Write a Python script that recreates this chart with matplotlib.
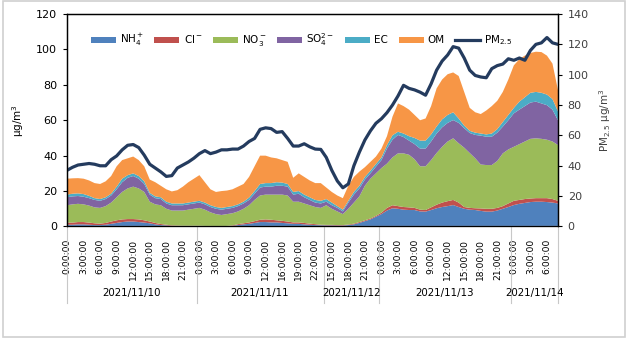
import matplotlib
matplotlib.use('Agg')
from matplotlib import pyplot as plt
from matplotlib.patches import Rectangle, Patch
from matplotlib.lines import Line2D
import matplotlib.transforms as mtransforms
import numpy as np

plt.rcParams['font.family'] = 'DejaVu Sans'

# category axis: hours of each day (11/11 misses 13:00, 11/12 starts at 14:00)
days = ['2021/11/10', '2021/11/11', '2021/11/12', '2021/11/13', '2021/11/14']
hours_per_day = [
    list(range(0, 24)),
    list(range(0, 13)) + list(range(14, 24)),
    list(range(14, 24)),
    list(range(0, 24)),
    list(range(0, 9)),
]

nh4 = [1.0,1.0,1.2,1.2,1.0,0.8,0.8,1.0,1.5,2.0, 2.5,2.8,2.8,2.5,2.2,1.8,1.2,0.8,0.6,0.3,
       0.2,0.2,0.2,0.2,0.2,0.1,0.1,0.1,0.1,0.1, 0.3,0.8,1.2,1.5,2.0,2.5,2.5,2.3,2.3,2.0,
       1.8,1.5,1.5,1.2,1.0,0.8,0.7,0.6,0.6,0.5, 0.5,0.8,1.2,2.0,3.0,4.0,5.5,7.0,9.0,10.3,
       10.0,9.5,9.3,9.3,8.5,8.4,9.3,10.3,11.0,11.5, 12.1,11.0,10.0,9.5,9.3,8.8,8.4,8.4,9.0,10.0,
       11.0,12.1,12.8,13.3,13.8,14.0,14.0,13.8,13.5,13.0]
cl = [1.2,1.2,1.3,1.3,1.2,1.0,0.8,1.0,1.3,1.5, 1.5,1.4,1.4,1.5,1.3,1.0,0.8,0.6,0.4,0.3,
      0.3,0.2,0.2,0.2,0.2,0.2,0.2,0.1,0.1,0.2, 0.3,0.5,0.6,0.8,1.0,1.3,1.5,1.5,1.2,1.2,
      1.0,0.8,0.8,0.8,0.6,0.5,0.3,0.3,0.3,0.3, 0.3,0.3,0.4,0.5,0.5,0.5,0.5,0.8,1.5,1.7,
      1.5,1.5,1.5,1.2,1.0,0.9,1.5,2.0,2.5,2.8, 2.9,2.5,1.0,1.0,1.0,1.4,1.6,1.6,1.5,1.5,
      2.0,2.4,2.2,2.2,2.0,2.0,2.0,2.2,2.0,1.5]
no3 = [9.8,10.3,10.3,10.0,9.6,9.0,8.9,9.5,10.7,13.0, 15.5,17.3,18.3,17.5,16.0,11.2,10.5,10.6,9.0,8.4,
       8.5,8.6,9.1,9.6,10.1,9.2,7.7,6.8,6.3,6.7, 6.9,7.2,8.2,9.7,12.0,13.7,14.0,14.2,14.5,14.8,
       14.7,11.7,11.7,11.0,10.4,9.7,9.5,11.1,9.1,7.7, 6.2,8.9,11.9,14.5,19.5,22.5,24.0,25.2,25.0,27.0,
       29.8,30.3,29.7,27.5,24.5,24.7,26.7,29.2,31.5,33.7, 34.8,33.5,33.5,31.0,28.2,24.8,24.7,24.7,26.5,29.8,
       30.5,30.5,31.5,32.5,33.7,33.8,33.5,33.0,32.5,31.5]
so4 = [4.5,4.5,4.4,4.3,4.2,4.2,4.0,4.0,4.0,4.5, 5.5,6.0,6.0,5.5,4.5,4.0,3.5,3.5,3.0,3.0,
       3.0,3.0,3.0,3.0,3.0,3.0,3.0,3.0,3.0,3.0, 3.0,3.0,3.0,3.0,3.5,4.5,4.5,4.5,5.0,5.0,
       5.0,4.0,4.5,3.5,3.0,2.5,2.5,2.0,2.0,2.0, 1.5,3.5,4.5,4.5,3.5,3.0,3.8,4.5,8.5,10.0,
       10.4,9.2,8.0,8.5,10.0,10.0,10.5,11.0,11.0,10.5, 10.3,11.5,11.0,11.3,13.2,16.3,16.0,16.0,16.0,15.1,
       16.5,18.9,19.5,20.0,20.5,20.7,20.0,19.5,18.0,14.0]
ec = [1.5,1.5,1.5,1.5,1.3,1.0,1.0,1.0,1.0,1.5, 2.0,1.5,1.5,1.5,1.5,1.0,1.0,1.0,1.0,1.0,
      1.0,1.0,1.0,1.0,1.0,1.0,1.0,1.0,1.0,1.0, 1.0,1.0,1.0,1.3,1.5,2.0,2.0,2.0,2.0,1.8,
      1.5,1.5,1.5,1.5,1.5,1.5,1.5,1.5,1.5,1.0, 1.0,1.0,1.5,1.5,1.5,1.5,1.5,1.5,2.0,2.5,
      1.8,2.0,2.5,3.5,4.5,4.5,4.0,4.0,4.5,4.5, 4.4,2.5,1.5,1.2,1.3,1.2,1.3,1.8,2.0,2.6,
      3.0,3.1,4.5,5.0,5.5,5.5,6.0,6.0,6.0,5.0]
om = [9.0,8.7,8.6,8.7,8.7,8.5,8.5,9.0,10.0,11.5, 10.5,9.5,9.5,9.0,8.5,7.5,8.0,6.5,7.0,6.8,
      7.5,9.5,11.5,13.0,14.5,11.5,9.0,8.5,9.5,9.3, 9.5,10.0,10.0,11.7,14.0,16.0,15.5,14.5,13.5,12.7,
      12.5,8.0,10.0,10.0,9.5,9.5,10.0,6.5,6.0,6.0, 6.5,8.5,8.5,8.0,5.5,5.0,4.2,5.0,5.0,10.5,
      16.0,15.5,15.0,13.0,11.5,12.5,16.0,21.5,22.5,23.0, 22.5,24.0,19.0,13.0,11.5,11.0,13.5,15.5,16.0,17.0,
      20.0,24.0,24.0,23.5,22.5,22.7,23.0,22.0,20.0,12.0]
pm25 = [37,39,40.5,41,41.5,41,40,40,44,46.5, 50.5,53.5,54,52,47,41,38.5,36,33,33.5,
        38.5,40.5,42.5,45,48,50,48,49,50.5,50.5, 51,51,53,56,58,64,65,64.5,62,62.5,
        58,53,53,54.5,52.5,51,50.8,45.5,37,30, 25.5,28,40,49,57,63,68,71,75,80,
        86,93,91,90,88.5,86.5,94,103,109,113, 118.5,117.5,111,103,99.5,98.5,98,104,106,107,
        110.5,109.5,111,109.5,116,120,121,124.5,121,120]

species = ['NH$_4^+$', 'Cl$^-$', 'NO$_3^-$', 'SO$_4^{2-}$', 'EC', 'OM']
colors = ['#4F81BD', '#C0504D', '#9BBB59', '#8064A2', '#4BACC6', '#F79646']
line_color = '#243B5E'

# build category labels
tick_labels = []
day_start = []
for hs in hours_per_day:
    day_start.append(len(tick_labels))
    for h in hs:
        tick_labels.append('%d:00:00' % h)
n = len(tick_labels)
x = np.arange(n)

fig = plt.figure(figsize=(6.28, 3.39), dpi=100)
fig.patches.append(Rectangle((0.004, 0.006), 0.991, 0.99, transform=fig.transFigure,
                             fill=False, edgecolor='#d0d0d0', linewidth=1.2))
ax = fig.add_axes([0.1067, 0.3319, 0.7818, 0.6268])
ax.stackplot(x, nh4, cl, no3, so4, ec, om, colors=colors, linewidth=0)
ax.set_xlim(0, n - 1)
ax.set_ylim(0, 120)
ax.set_yticks(range(0, 121, 20))
ax.set_ylabel('μg/m$^3$', fontsize=7.5, labelpad=7)
ax.tick_params(axis='y', labelsize=8, length=3, width=0.8, pad=4)

ax.set_xticks(x[::3])
ax.set_xticklabels(tick_labels[::3], rotation=90, fontsize=6.6)
ax.tick_params(axis='x', length=0, pad=9)

ax2 = ax.twinx()
ax2.plot(x, pm25, color=line_color, linewidth=2.3, solid_capstyle='round')
ax2.set_ylim(0, 140)
ax2.set_yticks(range(0, 141, 20))
ax2.tick_params(axis='y', labelsize=8, length=3, width=0.8, pad=4, labelcolor='#404040')
ax2.set_ylabel('PM$_{2.5}$ μg/m$^3$', fontsize=7.5, labelpad=6, color='#404040')

for a in (ax, ax2):
    for s in a.spines.values():
        s.set_color('black')
        s.set_linewidth(0.9)
ax.spines['bottom'].set_color('#bfbfbf')

# day separators and labels under the hour labels
trans = mtransforms.blended_transform_factory(ax.transData, ax.transAxes)
bounds = [0] + [s - 0.5 for s in day_start[1:]] + [n - 1]
for b in bounds:
    ax.plot([b, b], [0, -0.36], transform=trans, color='#c8c8c8', linewidth=0.8, clip_on=False)
for d, lo, hi in zip(days, bounds[:-1], bounds[1:]):
    ax.text((lo + hi) / 2, -0.315, d, transform=trans, ha='center', va='center', fontsize=7.4)

handles = [Patch(facecolor=c, edgecolor='none') for c in colors]
handles.append(Line2D([], [], color=line_color, linewidth=2.3))
ax2.legend(handles, species + ['PM$_{2.5}$'], loc='center', bbox_to_anchor=(0.478, 0.878),
           ncol=7, frameon=False, fontsize=7.5, handlelength=2.4, handleheight=0.5,
           columnspacing=1.0, handletextpad=0.4)

fig.savefig('out.png', dpi=100, facecolor='white')
